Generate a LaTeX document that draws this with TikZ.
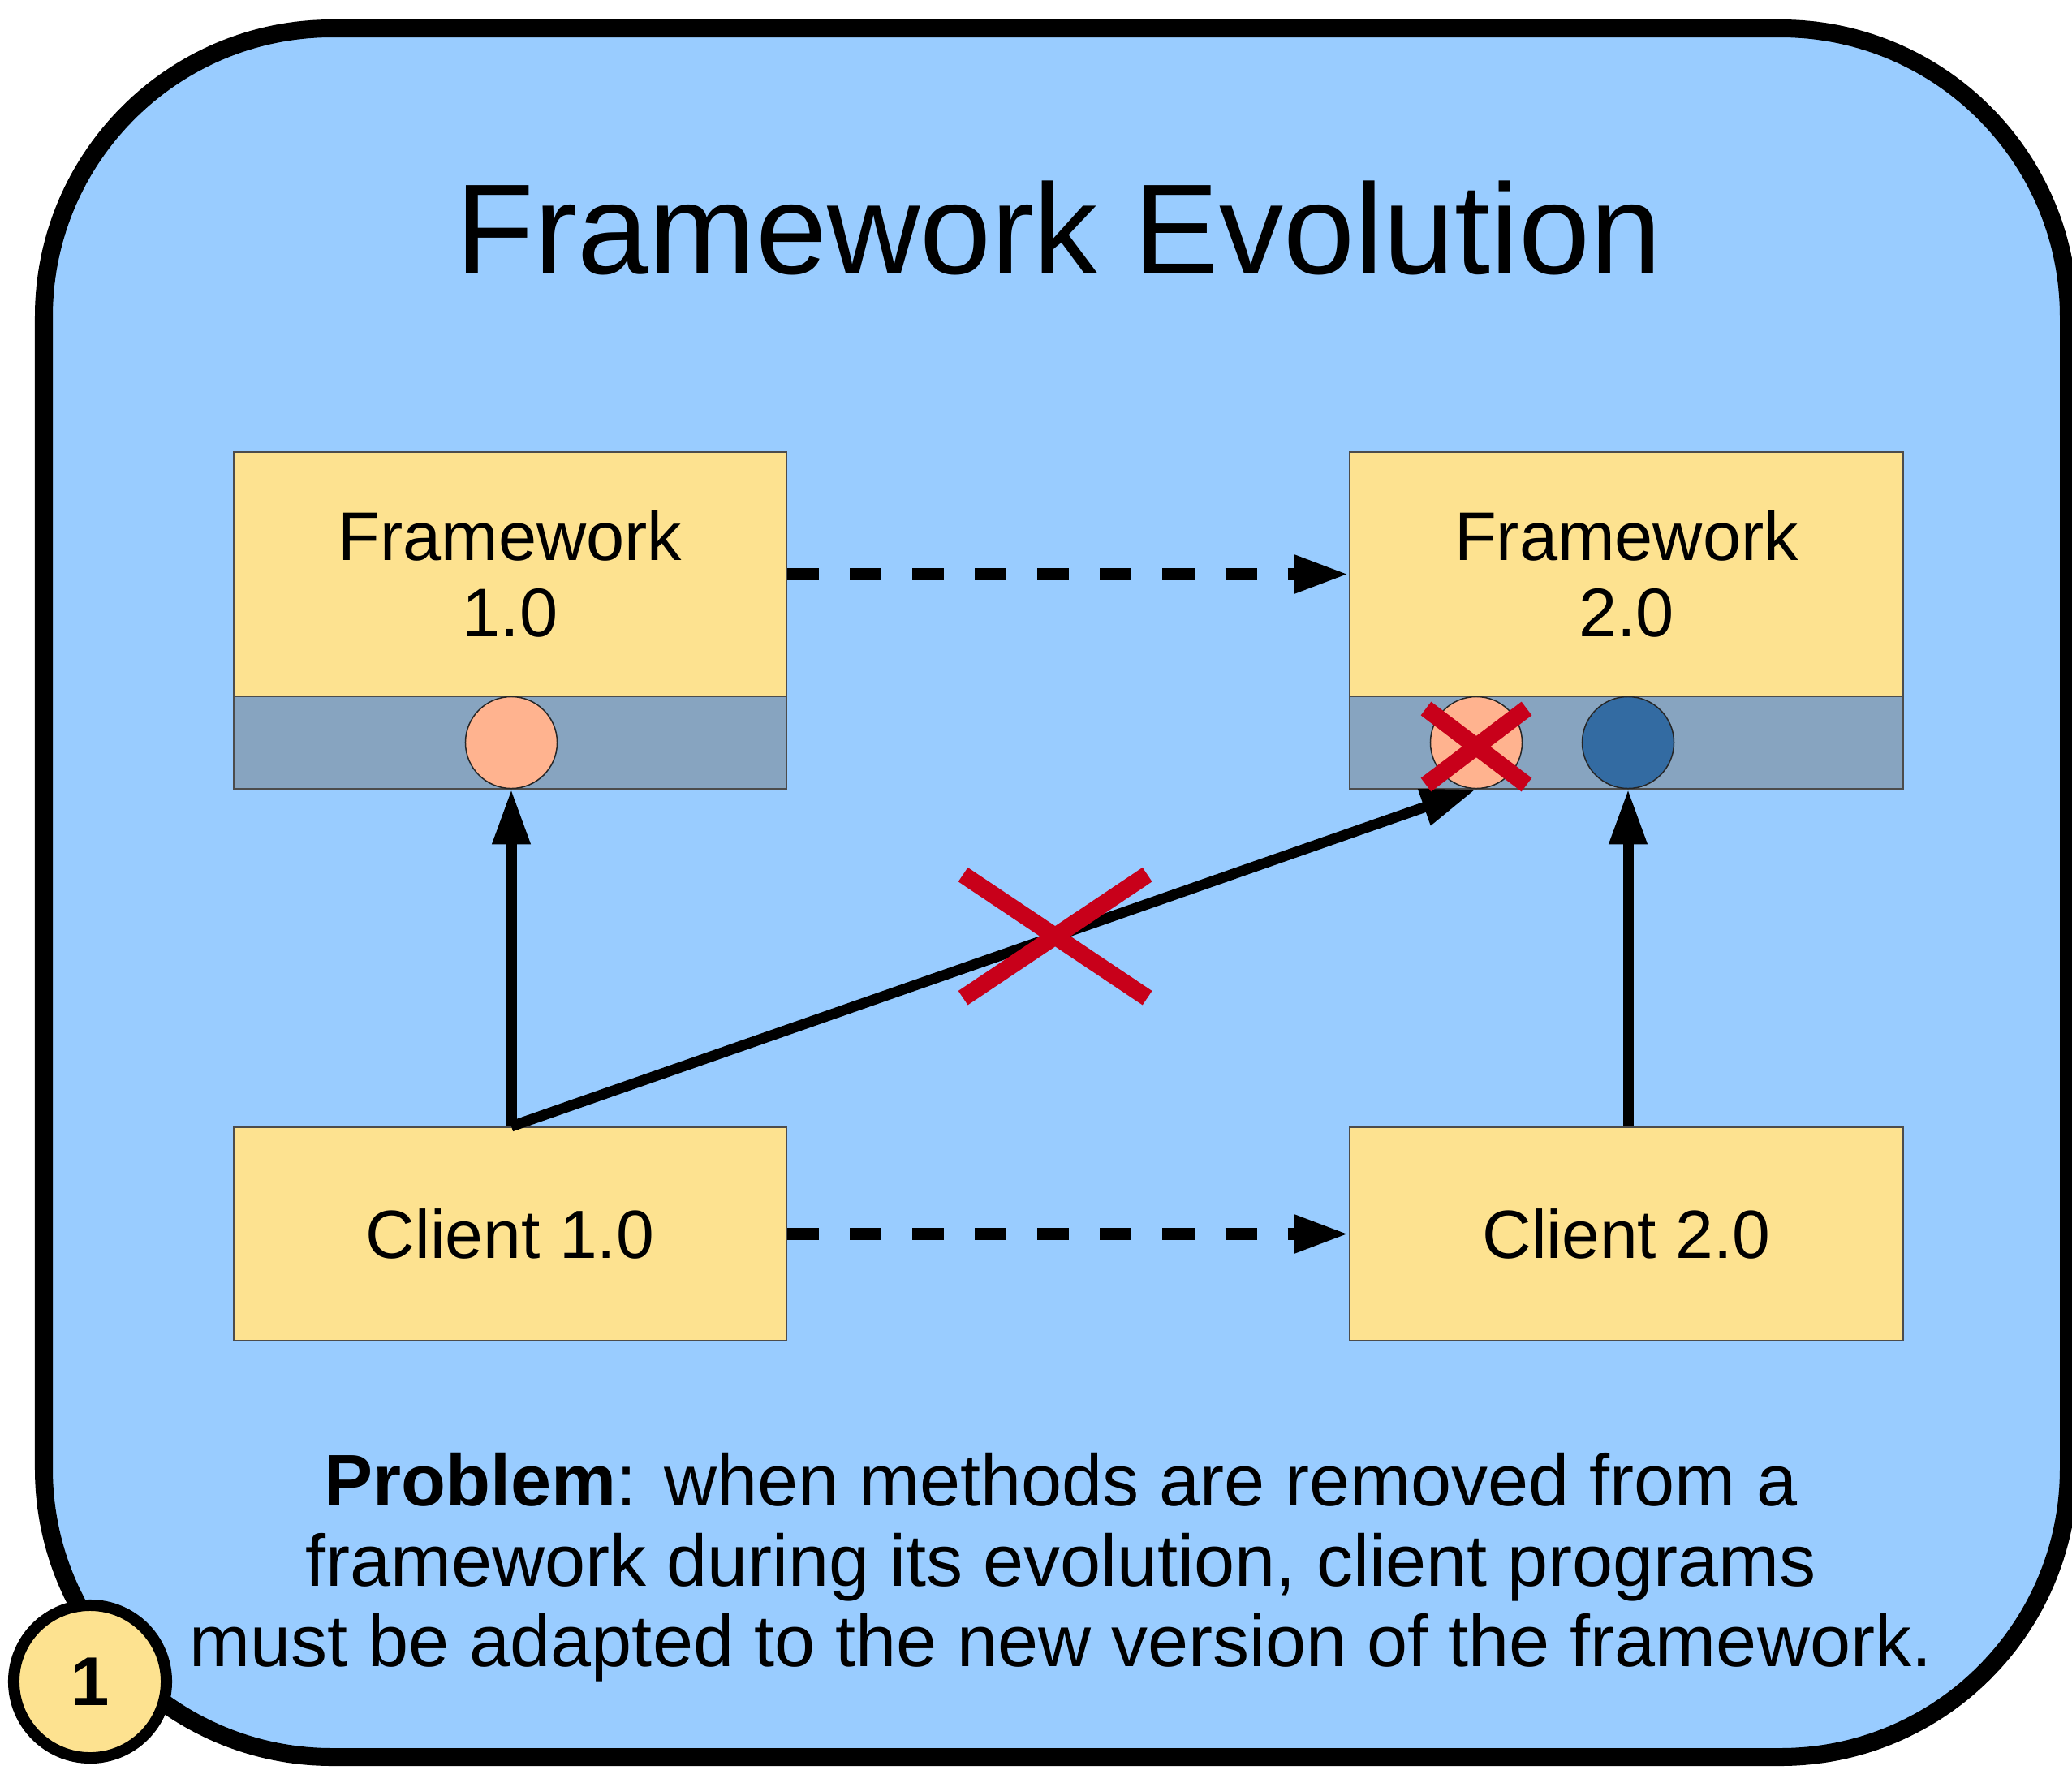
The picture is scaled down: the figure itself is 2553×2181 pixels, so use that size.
\documentclass[tikz,border=0pt]{standalone}
\usepackage{fontspec}
\setmainfont{Liberation Sans}
\usetikzlibrary{arrows.meta,calc}
\definecolor{bg}{HTML}{99CCFF}
\definecolor{fwy}{HTML}{FDE290}
\definecolor{apic}{HTML}{87A4C0}
\definecolor{peach}{HTML}{FFB38F}
\definecolor{dblue}{HTML}{336BA2}
\definecolor{xred}{HTML}{C8001A}
\begin{document}
\begin{tikzpicture}[x=0.01cm,y=-0.01cm,
  outer/.style={draw=black, line width=0.22cm, fill=bg, rounded corners=3.55cm},
  fwbox/.style={rectangle, draw=black!70, line width=0.02cm, fill=fwy, minimum width=6.81cm, minimum height=3.01cm, inner sep=0pt, align=center, font=\fontsize{24.1}{26.7}\selectfont},
  clbox/.style={fwbox, minimum height=2.63cm, font=\fontsize{23.9}{26.7}\selectfont},
  apibar/.style={rectangle, draw=black!70, line width=0.02cm, fill=apic, minimum width=6.81cm, minimum height=1.14cm, inner sep=0pt},
  method/.style={circle, draw=black!85, line width=0.015cm, minimum size=1.13cm, inner sep=0pt},
  evolve/.style={line width=0.15cm, dash pattern=on 0.39cm off 0.38cm, -{Triangle[length=0.68cm,width=0.44cm]}},
  uses/.style={line width=0.13cm, -{Triangle[length=0.68cm,width=0.44cm]}},
  xmark/.style={draw=xred, line width=0.21cm, line cap=butt},
  badge/.style={circle, draw=black, line width=0.14cm, fill=fwy, minimum size=1.88cm, inner sep=0pt, font=\fontsize{24.2}{28}\selectfont\bfseries}
]
\useasboundingbox (0,0) rectangle (2553,2181);
\path[outer] (54,35) rectangle (2549,2165);

\node[anchor=base, font=\fontsize{45}{50}\selectfont] (title) at (1305,337) {Framework Evolution};

\node[fwbox] (fw1) at (628.5,707.5) {Framework\\1.0};
\node[apibar] (fw1api) at (628.5,915) {};
\node[method, fill=peach] (c1) at (630,915) {};

\node[fwbox] (fw2) at (2004,707.5) {Framework\\2.0};
\node[apibar] (fw2api) at (2004,915) {};
\node[method, fill=peach] (c2a) at (1819,915) {};
\node[method, fill=dblue] (c2b) at (2006,915) {};

\node[clbox] (cl1) at (628.5,1520.5) {Client 1.0};
\node[clbox] (cl2) at (2004,1520.5) {Client 2.0};

\draw[evolve] (fw1.east) -- (fw2.west);
\draw[evolve] (cl1.east) -- (cl2.west);

\coordinate (start) at (cl1.north -| c1.south);
\draw[uses] (start) -- (c1.south);
\draw[uses] (start) -- (c2a.south);
\draw[uses] (cl2.north -| c2b.south) -- (c2b.south);

\coordinate (bx) at ($(start)!0.5636!(c2a.south)$);
\draw[xmark] ([shift={(-113.5,-76)}]bx) -- ([shift={(113.5,76)}]bx);
\draw[xmark] ([shift={(-113.5,76)}]bx) -- ([shift={(113.5,-76)}]bx);

\draw[xmark] ([shift={(-62,-42)}]c2a.center) -- ([shift={(62,52)}]c2a.center);
\draw[xmark] ([shift={(-62,52)}]c2a.center) -- ([shift={(62,-42)}]c2a.center);

\node[align=center, font=\fontsize{25.6}{28.2}\selectfont] (problem) at (1307,1931)
  {\textbf{Problem}: when methods are removed from a\\framework during its evolution, client programs\\must be adapted to the new version of the framework.};

\node[badge] (num) at (111,2072) {1};
\end{tikzpicture}
\end{document}
